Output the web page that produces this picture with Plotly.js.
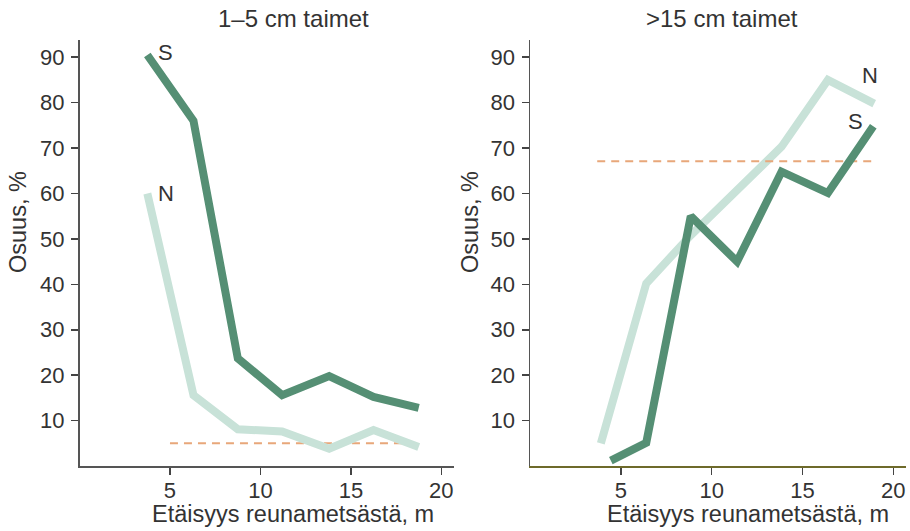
<!DOCTYPE html>
<html>
<head>
<meta charset="utf-8">
<script src="https://cdn.plot.ly/plotly-3.0.1.min.js"></script>
<style>html,body{margin:0;padding:0;background:#fff;}#chart{width:910px;height:531px;}</style>
</head>
<body>
<div id="chart"></div>
<script>
// ---- Data ----
const panelTitles = ["1–5 cm taimet", ">15 cm taimet"];
const xTitle = "Etäisyys reunametsästä, m";
const yTitle = "Osuus, %";
const xTicks = [5, 10, 15, 20];
const yTicks = [10, 20, 30, 40, 50, 60, 70, 80, 90];

// Left panel: 1–5 cm seedlings
const leftX = [3.75, 6.3, 8.75, 11.2, 13.8, 16.25, 18.75];
const leftS = [90.5, 76, 23.7, 15.6, 19.8, 15.2, 12.8];
const leftN = [60, 15.6, 8.1, 7.6, 3.8, 7.9, 4.2];
const leftRefX = [5, 18.85];
const leftRefY = [5, 5];

// Right panel: >15 cm seedlings
const rightSX = [4.45, 6.4, 8.85, 11.4, 13.85, 16.4, 18.9];
const rightS = [1.2, 5.1, 55, 45, 64.8, 60.1, 74.8];
const rightNX = [3.9, 6.4, 8.85, 11.4, 13.85, 16.4, 18.95];
const rightN = [5, 40.2, 50.8, 60.7, 70.3, 85, 79.8];
const rightRefX = [3.7, 18.9];
const rightRefY = [67.1, 67.1];

// ---- Styles ----
const cS = "#558f74", cN = "#c8e2d8", cRef = "#e8a77a";
const fontFam = "Liberation Sans, Arial, sans-serif";
const txt = "#333333";

function line(x, y, color, xa, ya) {
  return {x: x, y: y, type: "scatter", mode: "lines", xaxis: xa, yaxis: ya,
    line: {color: color, width: 8, shape: "linear"}, hoverinfo: "skip", showlegend: false};
}
function dash(x, y, xa, ya) {
  return {x: x, y: y, type: "scatter", mode: "lines", xaxis: xa, yaxis: ya,
    line: {color: cRef, width: 2, dash: "8px,6px"}, hoverinfo: "skip", showlegend: false};
}

const data = [
  dash(leftRefX, leftRefY, "x", "y"),
  line(leftX, leftN, cN, "x", "y"),
  line(leftX, leftS, cS, "x", "y"),
  line(rightNX, rightN, cN, "x2", "y2"),
  dash(rightRefX, rightRefY, "x2", "y2"),
  line(rightSX, rightS, cS, "x2", "y2")
];

function xax(domain, anchor, lc) {
  return {domain: domain, anchor: anchor, range: [0, 20.7], tickvals: xTicks,
    showgrid: false, zeroline: false, showline: true, linecolor: lc, linewidth: 2,
    ticks: "outside", ticklen: 7, tickwidth: 1.5, tickcolor: "#444",
    ticklabelstandoff: -3,
    tickfont: {family: fontFam, size: 22, color: txt}, fixedrange: true};
}
function yax(anchor) {
  return {domain: [0.1224, 0.9247], anchor: anchor, range: [0, 93.8], tickvals: yTicks,
    showgrid: false, zeroline: false, showline: true, linecolor: "#555", linewidth: 1.5,
    ticks: "outside", ticklen: 7, tickwidth: 1.5, tickcolor: "#444",
    ticklabelstandoff: 2,
    tickfont: {family: fontFam, size: 22, color: txt}, fixedrange: true};
}

function ann(text, x, y, size, extra) {
  return Object.assign({text: text, xref: "paper", yref: "paper", x: x / 910, y: 1 - y / 531,
    xanchor: "center", yanchor: "middle", showarrow: false,
    font: {family: fontFam, size: size, color: txt}}, extra || {});
}

const layout = {
  width: 910, height: 531,
  margin: {l: 0, r: 0, t: 0, b: 0},
  paper_bgcolor: "#ffffff", plot_bgcolor: "rgba(0,0,0,0)",
  showlegend: false,
  xaxis: xax([79.5 / 910, 454 / 910], "y", "#555"),
  yaxis: yax("x"),
  xaxis2: xax([530 / 910, 906 / 910], "y2", "#6e6a2a"),
  yaxis2: yax("x2"),
  annotations: [
    ann(panelTitles[0], 293, 18, 24),
    ann(panelTitles[1], 722, 18, 24),
    ann(xTitle, 293, 514, 23.5),
    ann(xTitle, 748, 514, 23.5),
    ann(yTitle, 18, 222, 23.5, {textangle: -90}),
    ann(yTitle, 470, 222, 23.5, {textangle: -90}),
    ann("S", 165, 52, 22),
    ann("N", 166, 193, 22),
    ann("N", 870, 75, 22),
    ann("S", 855, 122, 22)
  ]
};

Plotly.newPlot("chart", data, layout, {displayModeBar: false, staticPlot: true});
</script>
</body>
</html>
